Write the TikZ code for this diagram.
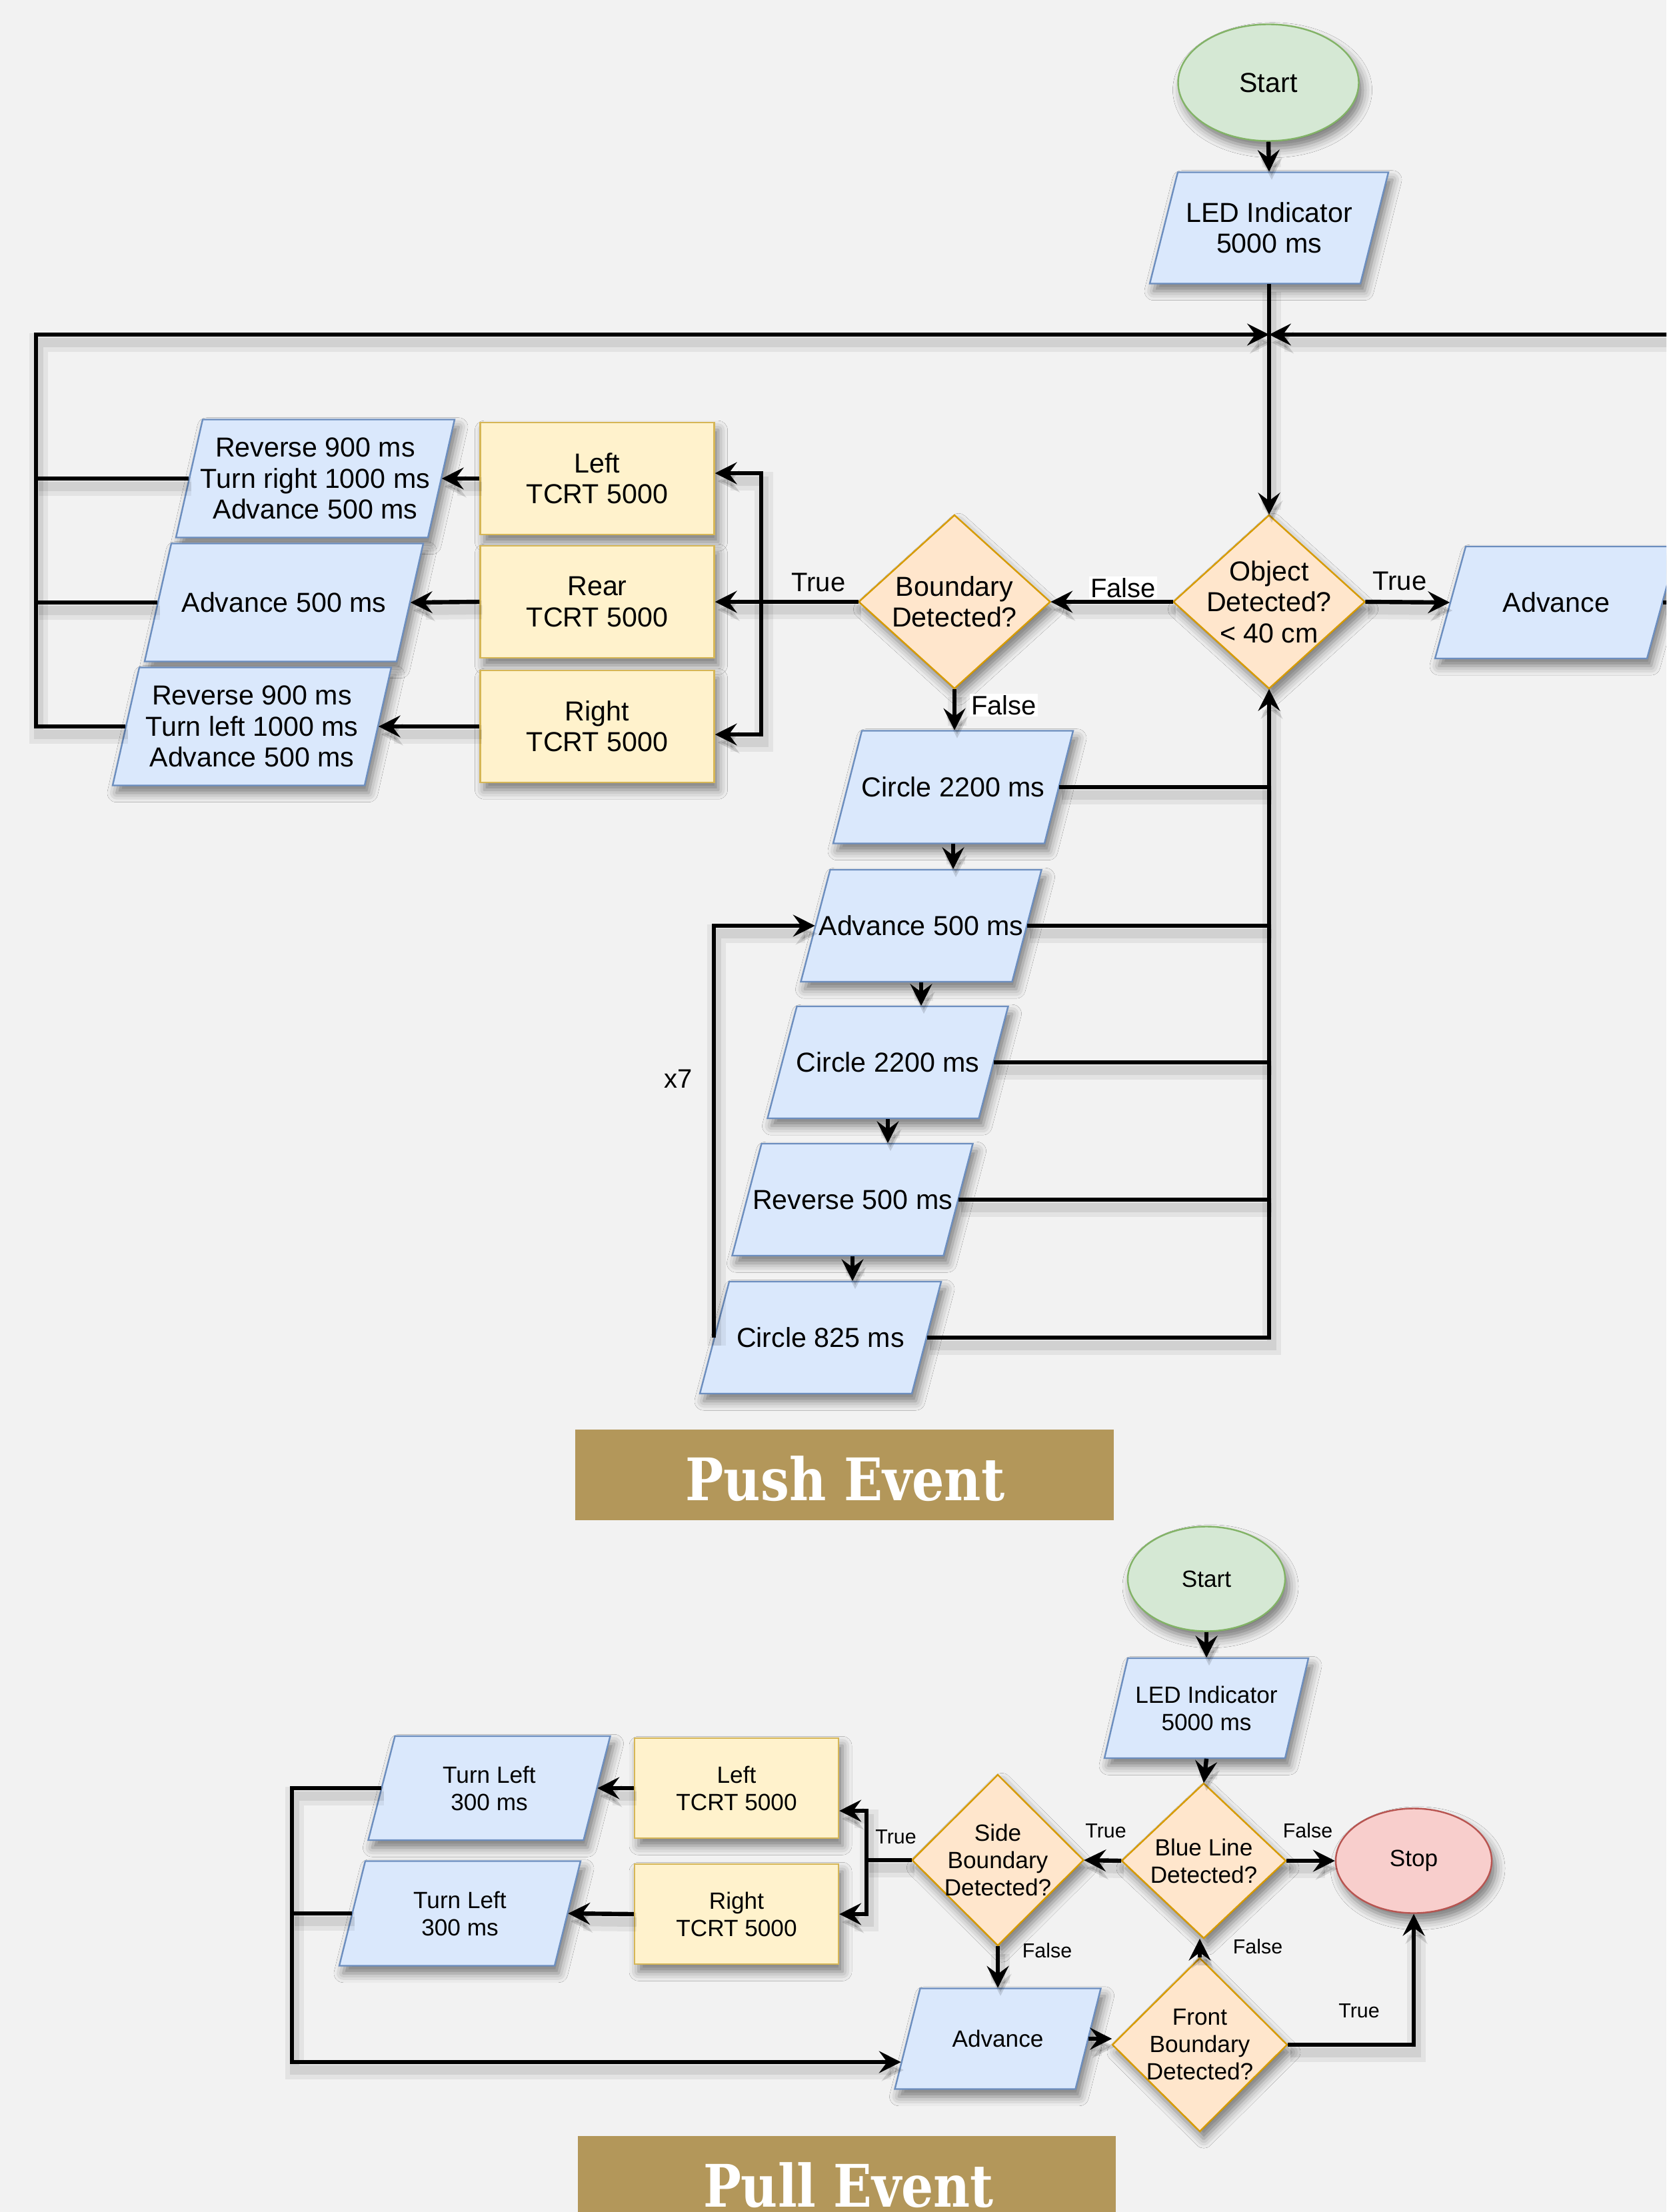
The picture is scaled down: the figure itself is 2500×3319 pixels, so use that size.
\documentclass[tikz,border=0pt]{standalone}
\usepackage{fontspec}
\setmainfont{Liberation Sans}
\newfontfamily\bannerfont{DejaVu Serif}
\usetikzlibrary{shapes.geometric,arrows.meta,calc,shadows.blur}

\definecolor{bg}{HTML}{F2F2F2}
\definecolor{bluef}{HTML}{DAE8FC}\definecolor{blued}{HTML}{6C8EBF}
\definecolor{yelf}{HTML}{FFF2CC}\definecolor{yeld}{HTML}{D6B656}
\definecolor{orf}{HTML}{FFE6CC}\definecolor{ord}{HTML}{D79B00}
\definecolor{grf}{HTML}{D5E8D4}\definecolor{grd}{HTML}{82B366}
\definecolor{rdf}{HTML}{F8CECC}\definecolor{rdd}{HTML}{B85450}
\definecolor{gold}{HTML}{B3975A}

\tikzset{
 shad/.style={blur shadow={shadow xshift=1.5pt, shadow yshift=-2.8pt, shadow blur radius=3.5pt, shadow opacity=50}},
 paraS/.style={fill=bluef, draw=blued, line width=0.6pt, shad},
 diaS/.style={fill=orf, draw=ord, line width=0.6pt, shad},
 txt/.style={inner sep=0pt, align=center, text=black},
 fA/.style={font=\fontsize{10.3pt}{11.6pt}\selectfont},
 fB/.style={font=\fontsize{8.8pt}{10.25pt}\selectfont},
 lblA/.style={font=\fontsize{10pt}{12pt}\selectfont, inner sep=0.6pt},
 lblB/.style={font=\fontsize{7.6pt}{9pt}\selectfont, inner sep=0pt},
 wlbl/.style={fill=white},
 ybox/.style={rectangle, fill=yelf, draw=yeld, line width=0.6pt, shad, inner sep=0pt, align=center},
 startS/.style={ellipse, fill=grf, draw=grd, line width=0.6pt, shad, inner sep=0pt},
 stopS/.style={ellipse, fill=rdf, draw=rdd, line width=0.6pt, shad, inner sep=0pt},
 con/.style={line width=1.6pt, draw=black,
   preaction={draw=black, opacity=0.06, line width=7pt, transform canvas={xshift=1pt,yshift=-3pt}},
   preaction={draw=black, opacity=0.08, line width=3.5pt, transform canvas={xshift=1pt,yshift=-3pt}}},
 arr/.style={con, -{Stealth[length=8.2pt,width=8.2pt,inset=3pt]}},
 bannerS/.style={rectangle, fill=gold, inner sep=0pt},
}

% #1 name, #2 cx, #3 cy, #4 W, #5 H, #6 skew, #7 font style, #8 text
\newcommand\mkpara[8]{%
 \path[paraS] ({#2-#4/2+#6/2},{#3-#5/2}) -- ({#2+#4/2+#6/2},{#3-#5/2}) -- ({#2+#4/2-#6/2},{#3+#5/2}) -- ({#2-#4/2-#6/2},{#3+#5/2}) -- cycle;
 \node[txt,#7,minimum width={#4*0.25pt},minimum height={#5*0.25pt}] (#1) at (#2,#3) {#8};
}
% #1 name, #2 cx, #3 cy, #4 W, #5 H, #6 font style, #7 text
\newcommand\mkdia[7]{%
 \path[diaS] (#2,{#3-#5/2}) -- ({#2+#4/2},#3) -- (#2,{#3+#5/2}) -- ({#2-#4/2},#3) -- cycle;
 \node[txt,#6,minimum width={#4*0.25pt},minimum height={#5*0.25pt}] (#1) at (#2,#3) {#7};
}

\begin{document}
\begin{tikzpicture}[x=0.25pt,y=-0.25pt]
\useasboundingbox (0,0) rectangle (2500,3319);
\clip (0,0) rectangle (2500,3319);
\fill[bg] (0,0) rectangle (2500,3319);

% ================= PUSH EVENT =================
\node[startS, fA, minimum width={271*0.25pt}, minimum height={175*0.25pt}] (startA) at (1903,124) {Start};
\mkpara{ledA}{1904}{342}{316}{167}{42}{fA}{LED Indicator\\5000 ms}
\mkdia{objA}{1904}{903}{287}{260}{fA}{Object\\Detected?\\< 40 cm}
\mkpara{advR}{2335}{904}{318}{168}{46}{fA}{Advance}
\mkdia{bndA}{1432}{903}{287}{260}{fA}{Boundary\\Detected?}

\node[ybox, fA, minimum width={351*0.25pt}, minimum height={168*0.25pt}] (yl) at (896,718) {Left\\TCRT 5000};
\node[ybox, fA, minimum width={351*0.25pt}, minimum height={168*0.25pt}] (yre) at (896,903) {Rear\\TCRT 5000};
\node[ybox, fA, minimum width={351*0.25pt}, minimum height={168*0.25pt}] (yr) at (896,1090) {Right\\TCRT 5000};

\mkpara{p1}{473}{718}{378}{177}{40}{fA}{Reverse 900 ms\\Turn right 1000 ms\\Advance 500 ms}
\mkpara{p2}{426}{904}{378}{177}{40}{fA}{Advance 500 ms}
\mkpara{p3}{378}{1090}{378}{177}{40}{fA}{Reverse 900 ms\\Turn left 1000 ms\\Advance 500 ms}

\mkpara{c1}{1430}{1181}{317}{169}{43}{fA}{Circle 2200 ms}
\mkpara{a1}{1382}{1389}{317}{168}{44}{fA}{Advance 500 ms}
\mkpara{c2}{1332}{1594}{317}{168}{44}{fA}{Circle 2200 ms}
\mkpara{r1}{1279}{1800}{317}{168}{44}{fA}{Reverse 500 ms}
\mkpara{c3}{1231}{2007}{318}{168}{44}{fA}{Circle 825 ms}

% connectors
\coordinate (jA) at (1904,502);
\coordinate (jL) at (54,502);
\coordinate (offR) at (2580,904);
\coordinate (tjA) at (1142,903);
\draw[arr] (startA.south) -- (ledA.north);
\draw[arr] (ledA.south) -- (objA.north);
\draw[arr] (p3.west) -| (jL) -- (jA);
\draw[con] (p1.west) -- (p1.west -| jL);
\draw[con] (p2.west) -- (p2.west -| jL);
\draw[arr] (advR.east) -- (offR) |- (jA);
\draw[arr] (objA.east) -- (advR.west);
\draw[arr] (objA.west) -- (bndA.east);
\draw[con] (bndA.west) -- (tjA);
\draw[arr] (tjA) |- ([yshift=2pt]yl.east);
\draw[arr] (tjA) |- ([yshift=-3pt]yr.east);
\draw[arr] (tjA) -- (yre.east);
\draw[arr] (yl.west) -- (p1.east);
\draw[arr] (yre.west) -- (p2.east);
\draw[arr] (yr.west) -- (p3.east);
\draw[arr] (bndA.south) -- (bndA.south |- c1.north);
\draw[arr] (c1.south) -- (c1.south |- a1.north);
\draw[arr] (a1.south) -- (a1.south |- c2.north);
\draw[arr] (c2.south) -- (c2.south |- r1.north);
\draw[arr] (r1.south) -- (r1.south |- c3.north);
\draw[con] (c1.east) -- (c1.east -| objA.south);
\draw[con] (a1.east) -- (a1.east -| objA.south);
\draw[con] (c2.east) -- (c2.east -| objA.south);
\draw[con] (r1.east) -- (r1.east -| objA.south);
\draw[arr] (c3.east) -| (objA.south);
\draw[arr] (c3.west) |- (a1.west);

% labels
\node[lblA] (tA1) at (1228,874) {True};
\node[lblA, wlbl] (fA1) at (1685,882) {False};
\node[lblA, wlbl] (fA2) at (1506,1058) {False};
\node[lblA] (tA2) at (2100,872) {True};
\node[lblA] (x7) at (1018,1619) {x7};

% banner
\node[bannerS, minimum width={808*0.25pt}, minimum height={136*0.25pt}] (bannerA) at (1267,2213) {};
\node[anchor=base, inner sep=0pt, text=white] (bannerAt) at (1268,2251) {\resizebox{119.75pt}{\height}{\bannerfont\bfseries\fontsize{22pt}{22pt}\selectfont Push Event}};

% ================= PULL EVENT =================
\node[startS, fB, minimum width={236*0.25pt}, minimum height={157*0.25pt}] (startB) at (1810,2369) {Start};
\mkpara{ledB}{1810}{2563}{271}{150}{35}{fB}{LED Indicator\\5000 ms}
\mkdia{blueB}{1806}{2792}{246}{232}{fB}{Blue Line\\Detected?}
\node[stopS, fB, minimum width={234*0.25pt}, minimum height={157*0.25pt}] (stopB) at (2121,2792) {Stop};
\mkdia{sideB}{1497}{2791}{257}{256}{fB}{Side\\Boundary\\Detected?}
\node[ybox, fB, minimum width={306*0.25pt}, minimum height={150*0.25pt}] (ylB) at (1105,2683) {Left\\TCRT 5000};
\node[ybox, fB, minimum width={306*0.25pt}, minimum height={150*0.25pt}] (yrB) at (1105,2872) {Right\\TCRT 5000};
\mkpara{tl1}{734}{2683}{323}{156}{40}{fB}{Turn Left\\300 ms}
\mkpara{tl2}{690}{2871}{323}{157}{39}{fB}{Turn Left\\300 ms}
\mkpara{advB}{1497}{3059}{271}{151}{38}{fB}{Advance}
\mkdia{frontB}{1800}{3068}{262}{260}{fB}{Front\\Boundary\\Detected?}

\coordinate (tjB) at (1300,2791);
\coordinate (jB) at (438,3094);
\draw[arr] (startB.south) -- (ledB.north);
\draw[arr] (ledB.south) -- (blueB.north);
\draw[arr] (blueB.east) -- (stopB.west);
\draw[arr] (blueB.west) -- (sideB.east);
\draw[con] (sideB.west) -- (tjB);
\draw[arr] (tjB) |- ([yshift=-8.5pt]ylB.east);
\draw[arr] (tjB) |- (yrB.east);
\draw[arr] (ylB.west) -- (tl1.east);
\draw[arr] (yrB.west) -- (tl2.east);
\draw[con] (tl2.west) -- (tl2.west -| jB);
\draw[arr] (tl1.west) -| (jB) -- ($(advB.west)+(-9,35)$);
\draw[arr] (sideB.south) -- (sideB.south |- advB.north);
\draw[arr] (advB.east) -- (advB.east -| frontB.west);
\draw[arr] (frontB.north) -- (frontB.north |- blueB.south);
\draw[arr] (frontB.east) -| (stopB.south);

\node[lblB] (tB1) at (1344,2756) {True};
\node[lblB] (tB2) at (1659,2747) {True};
\node[lblB] (fB1) at (1962,2747) {False};
\node[lblB] (fB2) at (1571,2927) {False};
\node[lblB] (fB3) at (1887,2921) {False};
\node[lblB] (tB3) at (2039,3017) {True};

\node[bannerS, minimum width={807*0.25pt}, minimum height={136*0.25pt}] (bannerB) at (1270,3273) {};
\node[anchor=base, inner sep=0pt, text=white] (bannerBt) at (1273,3311) {\resizebox{109pt}{\height}{\bannerfont\bfseries\fontsize{22pt}{22pt}\selectfont Pull Event}};
\end{tikzpicture}
\end{document}
